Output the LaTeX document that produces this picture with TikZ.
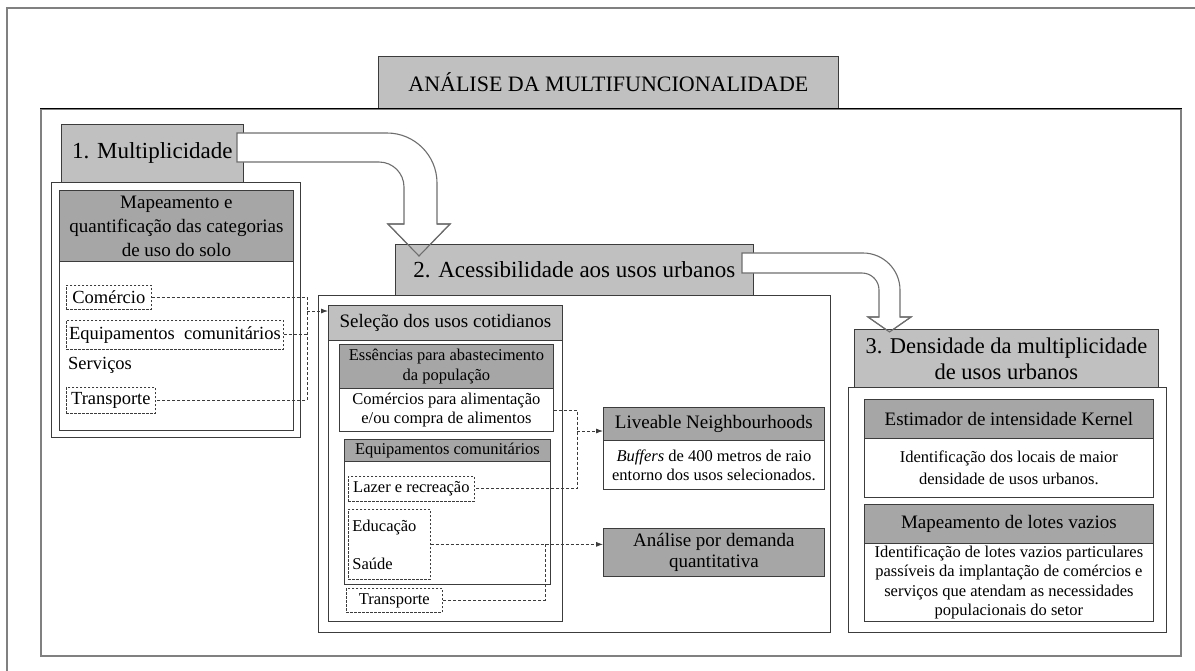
\documentclass[tikz,border=0pt]{standalone}
\usepackage{fontspec}
\setmainfont{Liberation Serif}
\usetikzlibrary{arrows.meta}
\definecolor{lightg}{HTML}{C0C0C0}
\definecolor{darkg}{HTML}{A6A6A6}
\definecolor{bordc}{HTML}{3C3C3C}
\definecolor{framec}{HTML}{808080}
\definecolor{arrc}{HTML}{6E6E6E}
\newcommand{\fsz}[2]{\fontsize{#1}{#2}\selectfont}
\begin{document}
\begin{tikzpicture}[x=1pt,y=-1pt,
  base/.style={draw=bordc, line width=0.8pt, inner sep=0pt, anchor=north west, align=center, text=black},
  lbox/.style={base, fill=lightg},
  dbox/.style={base, fill=darkg},
  wbox/.style={base, fill=white},
  dashbox/.style={draw=bordc, line width=0.7pt, dash pattern=on 2.5pt off 1.5pt, inner sep=0pt, anchor=north west, fill=white, align=center},
  conn/.style={draw=bordc, line width=0.8pt, dash pattern=on 3pt off 2pt},
  arr/.style={conn, -{Latex[length=7pt,width=5pt]}},
  bigfill/.style={fill=white, draw=none},
  bigline/.style={draw=arrc, line width=1.1pt, line join=miter},
]
\useasboundingbox (0,0) rectangle (1195,670);
% outer frame
\draw[framec, line width=2pt] (1196,8) -- (7,8) -- (7,671);
% inner frame
\node[base, draw=framec, line width=1.5pt, minimum width=1140pt, minimum height=547pt] (frame) at (40,108) {};
\draw[black, line width=1pt] (frame.north west) -- (frame.north east);
% title
\node[lbox, minimum width=460pt, minimum height=52pt, font={\fsz{22}{26}}] (title) at (378,56) {ANÁLISE DA MULTIFUNCIONALIDADE};
\draw[black, line width=1pt] (frame.north west) -- (frame.north east);

% ---- section 1
\node[lbox, minimum width=182pt, minimum height=58pt, font={\fsz{23}{27}}] (b1) at (61,124) {1. Multiplicidade};
\node[wbox, minimum width=249pt, minimum height=255pt] (p1) at (51,182) {};
\node[dbox, minimum width=234pt, minimum height=71pt, font={\fsz{19}{24}}] (p1h) at (59,190) {Mapeamento e\\quantificação das categorias\\de uso do solo};
\node[wbox, minimum width=234pt, minimum height=169pt] (p1b) at (59,261) {};
\node[dashbox, minimum width=85pt, minimum height=24pt, font={\fsz{18.5}{22}}] (com) at (66,285) {Comércio};
\node[dashbox, minimum width=217pt, minimum height=29pt, font={\fsz{18.5}{22}}] (equ) at (66,320) {Equipamentos\ \ comunitários};
\node[anchor=west, inner sep=0pt, font={\fsz{18.5}{22}}] (ser) at (68,365) {Serviços};
\node[dashbox, minimum width=89pt, minimum height=26pt, font={\fsz{18.5}{22}}] (tra) at (66,387) {Transporte};

% ---- big arrow 1 (fill)
\path[bigfill] (237,133) -- (387,133) .. controls (414.6,133) and (437,155.4) .. (437,183) -- (437,224) -- (450,224) -- (419,256) -- (388,224) -- (404,224) -- (404,187) .. controls (404,173.2) and (392.8,162) .. (379,162) -- (237,162) -- cycle;
\draw[bigline] (237,133) -- (387,133) .. controls (414.6,133) and (437,155.4) .. (437,183) -- (437,224) -- (450,224) -- (419,256) -- (388,224) -- (404,224) -- (404,187) .. controls (404,173.2) and (392.8,162) .. (379,162) -- (237,162) -- cycle;

% ---- section 2
\node[wbox, minimum width=512pt, minimum height=337pt] (p2) at (318,295) {};
\node[lbox, minimum width=358pt, minimum height=51pt, font={\fsz{23}{27}}] (b2) at (395,244) {2. Acessibilidade aos usos urbanos};
\draw[bigline] (404,224) -- (388,224) -- (419,256) -- (450,224) -- (437,224);

\node[lbox, minimum width=234pt, minimum height=35pt, font={\fsz{19}{23}}] (sel) at (328,305) {Seleção dos usos cotidianos};
\node[wbox, minimum width=234pt, minimum height=281pt] (selb) at (328,340) {};
\node[dbox, minimum width=214pt, minimum height=44pt, font={\fsz{16.5}{20}}] (essh) at (339,344) {Essências para abastecimento\\da população};
\node[wbox, minimum width=214pt, minimum height=43pt, font={\fsz{16.5}{19}}] (essb) at (339,388) {Comércios para alimentação\\e/ou compra de alimentos};
\node[dbox, minimum width=206pt, minimum height=22pt, font={\fsz{16.5}{20}}] (eqh) at (344,439) {Equipamentos\ comunitários};
\node[wbox, minimum width=206pt, minimum height=123pt] (eqb) at (344,461) {};
\node[dashbox, minimum width=126pt, minimum height=25pt, font={\fsz{16.5}{20}}] (laz) at (348,476) {Lazer e recreação};
\node[dashbox, minimum width=82pt, minimum height=70pt, text width=74pt, align=left, font={\fsz{16.5}{38}}] (eds) at (348,509) {Educação\\Saúde};
\node[dashbox, minimum width=96pt, minimum height=24pt, font={\fsz{16.5}{20}}] (tr2) at (346,588) {Transporte};

\node[dbox, minimum width=221pt, minimum height=33pt, font={\fsz{19}{23}}] (liv) at (603,407) {Liveable Neighbourhoods};
\node[wbox, minimum width=221pt, minimum height=49pt, font={\fsz{16.5}{19}}] (livb) at (603,440) {\textit{Buffers} de 400 metros de raio\\entorno dos usos selecionados.};
\node[dbox, minimum width=221pt, minimum height=48pt, font={\fsz{19}{21}}] (ana) at (603,528) {Análise por demanda\\quantitativa};

% ---- big arrow 2 (fill)
\path[bigfill] (742,253) -- (863,253) .. controls (883.4,253) and (900,269.6) .. (900,290) -- (900,317) -- (911,317) -- (889.5,332) -- (868,317) -- (879,317) -- (879,290) .. controls (879,280.6) and (871.4,273) .. (862,273) -- (742,273) -- cycle;
\draw[bigline] (742,253) -- (863,253) .. controls (883.4,253) and (900,269.6) .. (900,290) -- (900,317) -- (911,317) -- (889.5,332) -- (868,317) -- (879,317) -- (879,290) .. controls (879,280.6) and (871.4,273) .. (862,273) -- (742,273) -- cycle;

% ---- section 3
\node[lbox, minimum width=304pt, minimum height=58pt, font={\fsz{22.5}{26}}] (b3) at (854,329) {3. Densidade da multiplicidade\\de usos urbanos};
\node[wbox, minimum width=318pt, minimum height=245pt] (p3) at (848,387) {};
\draw[bigline] (879,317) -- (868,317) -- (889.5,332) -- (911,317) -- (900,317);
\node[dbox, minimum width=289pt, minimum height=39pt, font={\fsz{19}{23}}] (esth) at (864,399) {Estimador de intensidade Kernel};
\node[wbox, minimum width=289pt, minimum height=59pt, font={\fsz{16.5}{22}}] (estb) at (864,438) {Identificação dos locais de maior\\densidade de usos urbanos.};
\node[dbox, minimum width=289pt, minimum height=39pt, font={\fsz{19}{23}}] (loth) at (864,504) {Mapeamento\ de lotes vazios};
\node[wbox, minimum width=289pt, minimum height=78pt, font={\fsz{16.5}{19.5}}] (lotb) at (864,543) {Identificação de lotes vazios particulares\\passíveis da implantação de comércios e\\serviços que atendam as necessidades\\populacionais do setor};

% ---- dashed connectors
\coordinate (j1) at (307,311);
\draw[conn] (com.east) -| (j1 |- tra.east) -- (tra.east);
\draw[conn] (equ.east) -- (equ.east -| j1);
\draw[arr] (j1) -- (sel.west |- j1);

\coordinate (j2) at (577,431);
\draw[conn] (essb.east) -| (j2 |- laz.east) -- (laz.east);
\draw[arr] (j2) -- (liv.west |- j2);

\coordinate (j3) at (545,544);
\draw[arr] (eds.east) -- (ana.west |- eds.east);
\draw[conn] (eds.east -| j3) |- (tr2.east);
\end{tikzpicture}
\end{document}
